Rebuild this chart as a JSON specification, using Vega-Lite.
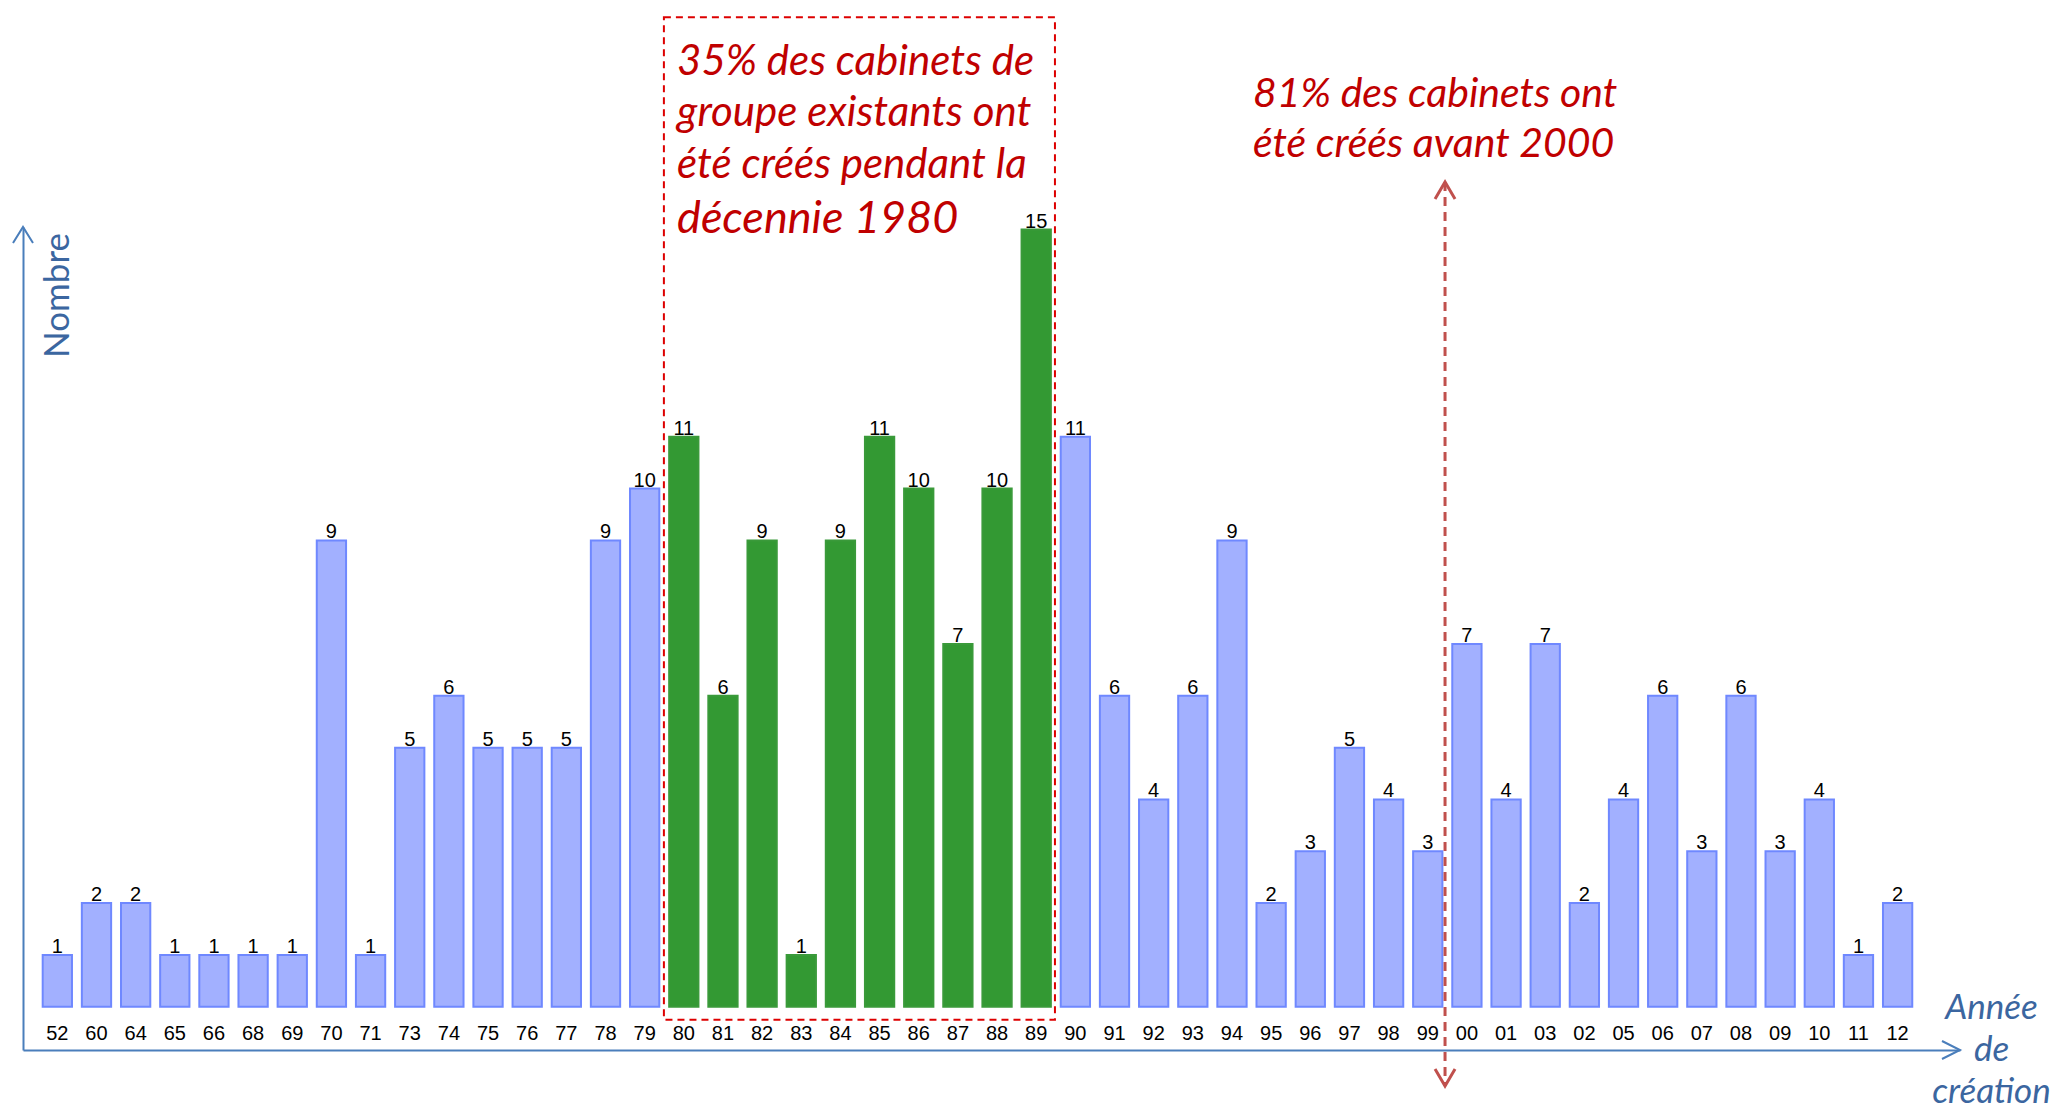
{
  "$schema": "https://vega.github.io/schema/vega-lite/v6.json",
  "width": 1937,
  "height": 823,
  "autosize": {"type": "none"},
  "padding": {"left": 23, "top": 227, "right": 98, "bottom": 59},
  "background": "white",
  "config": {"view": {"stroke": null}},
  "datasets": {
    "cabinets": [
      {"annee": "52", "n": 1, "groupe": "autre"},
      {"annee": "60", "n": 2, "groupe": "autre"},
      {"annee": "64", "n": 2, "groupe": "autre"},
      {"annee": "65", "n": 1, "groupe": "autre"},
      {"annee": "66", "n": 1, "groupe": "autre"},
      {"annee": "68", "n": 1, "groupe": "autre"},
      {"annee": "69", "n": 1, "groupe": "autre"},
      {"annee": "70", "n": 9, "groupe": "autre"},
      {"annee": "71", "n": 1, "groupe": "autre"},
      {"annee": "73", "n": 5, "groupe": "autre"},
      {"annee": "74", "n": 6, "groupe": "autre"},
      {"annee": "75", "n": 5, "groupe": "autre"},
      {"annee": "76", "n": 5, "groupe": "autre"},
      {"annee": "77", "n": 5, "groupe": "autre"},
      {"annee": "78", "n": 9, "groupe": "autre"},
      {"annee": "79", "n": 10, "groupe": "autre"},
      {"annee": "80", "n": 11, "groupe": "1980"},
      {"annee": "81", "n": 6, "groupe": "1980"},
      {"annee": "82", "n": 9, "groupe": "1980"},
      {"annee": "83", "n": 1, "groupe": "1980"},
      {"annee": "84", "n": 9, "groupe": "1980"},
      {"annee": "85", "n": 11, "groupe": "1980"},
      {"annee": "86", "n": 10, "groupe": "1980"},
      {"annee": "87", "n": 7, "groupe": "1980"},
      {"annee": "88", "n": 10, "groupe": "1980"},
      {"annee": "89", "n": 15, "groupe": "1980"},
      {"annee": "90", "n": 11, "groupe": "autre"},
      {"annee": "91", "n": 6, "groupe": "autre"},
      {"annee": "92", "n": 4, "groupe": "autre"},
      {"annee": "93", "n": 6, "groupe": "autre"},
      {"annee": "94", "n": 9, "groupe": "autre"},
      {"annee": "95", "n": 2, "groupe": "autre"},
      {"annee": "96", "n": 3, "groupe": "autre"},
      {"annee": "97", "n": 5, "groupe": "autre"},
      {"annee": "98", "n": 4, "groupe": "autre"},
      {"annee": "99", "n": 3, "groupe": "autre"},
      {"annee": "00", "n": 7, "groupe": "autre"},
      {"annee": "01", "n": 4, "groupe": "autre"},
      {"annee": "03", "n": 7, "groupe": "autre"},
      {"annee": "02", "n": 2, "groupe": "autre"},
      {"annee": "05", "n": 4, "groupe": "autre"},
      {"annee": "06", "n": 6, "groupe": "autre"},
      {"annee": "07", "n": 3, "groupe": "autre"},
      {"annee": "08", "n": 6, "groupe": "autre"},
      {"annee": "09", "n": 3, "groupe": "autre"},
      {"annee": "10", "n": 4, "groupe": "autre"},
      {"annee": "11", "n": 1, "groupe": "autre"},
      {"annee": "12", "n": 2, "groupe": "autre"}
    ]
  },
  "layer": [
    {
      "data": {"name": "cabinets"},
      "mark": {"type": "bar", "strokeWidth": 2},
      "encoding": {
        "x": {
          "field": "annee",
          "type": "nominal",
          "sort": null,
          "scale": {
            "domain": ["52","60","64","65","66","68","69","70","71","73","74","75","76","77","78","79","80","81","82","83","84","85","86","87","88","89","90","91","92","93","94","95","96","97","98","99","00","01","03","02","05","06","07","08","09","10","11","12"],
            "paddingInner": 0.252,
            "paddingOuter": 0.861,
            "align": 0.292
          },
          "axis": {
            "title": ["Année", "de", "création"],
            "titleFont": "Lato",
            "titleFontStyle": "italic",
            "titleFontWeight": "normal",
            "titleFontSize": 35,
            "titleColor": "#3b66a0",
            "titleLineHeight": 42,
            "titleX": 1968,
            "titleY": -43,
            "titleAlign": "center",
            "titleBaseline": "middle",
            "titleAngle": 0,
            "labelAngle": 0,
            "labelFont": "Liberation Sans",
            "labelFontSize": 20,
            "labelColor": "#000000",
            "labelPadding": -17,
            "labelBaseline": "middle",
            "ticks": false,
            "tickSize": 0,
            "grid": false,
            "domainColor": "#4a7ebb",
            "domainWidth": 2
          }
        },
        "y": {
          "field": "n",
          "type": "quantitative",
          "scale": {"domain": [-0.836, 15.05], "nice": false, "zero": false},
          "axis": {
            "title": "Nombre",
            "titleFont": "Lato",
            "titleFontSize": 35,
            "titleFontWeight": "normal",
            "titleColor": "#3b66a0",
            "titleX": 34,
            "titleY": 68,
            "titleAngle": 270,
            "titleAlign": "center",
            "titleBaseline": "middle",
            "labels": false,
            "ticks": false,
            "grid": false,
            "domainColor": "#4a7ebb",
            "domainWidth": 2
          }
        },
        "y2": {"datum": 0},
        "fill": {
          "field": "groupe",
          "type": "nominal",
          "scale": {"domain": ["autre", "1980"], "range": ["#a2b0ff", "#339933"]},
          "legend": null
        },
        "stroke": {
          "field": "groupe",
          "type": "nominal",
          "scale": {"domain": ["autre", "1980"], "range": ["#6f88ff", "#3a9a3a"]},
          "legend": null
        }
      }
    },
    {
      "data": {"name": "cabinets"},
      "mark": {"type": "text", "font": "Liberation Sans", "fontSize": 20, "color": "#000000", "baseline": "alphabetic", "dy": -2},
      "encoding": {
        "x": {"field": "annee", "type": "nominal", "sort": null},
        "y": {"field": "n", "type": "quantitative"},
        "text": {"field": "n", "type": "quantitative"}
      }
    },
    {
      "data": {"values": [{"y1": -0.25, "y2": 19.1}]},
      "mark": {"type": "rect", "fill": null, "stroke": "#dd0000", "strokeWidth": 2, "strokeDash": [7, 5], "clip": false},
      "encoding": {
        "x": {"datum": "80", "bandPosition": -0.18},
        "x2": {"datum": "89", "bandPosition": 1.14},
        "y": {"field": "y1", "type": "quantitative"},
        "y2": {"field": "y2"}
      }
    },
    {
      "data": {"values": [{"t": ["35% des cabinets de", "groupe existants ont", "été créés pendant la"], "y": 17.99}]},
      "mark": {"type": "text", "font": "Lato", "fontStyle": "italic", "fontSize": 42, "color": "#c00000", "align": "left", "baseline": "alphabetic", "lineHeight": 51.5},
      "encoding": {
        "x": {"datum": "80", "bandPosition": 0.27},
        "y": {"field": "y", "type": "quantitative"},
        "text": {"field": "t"}
      }
    },
    {
      "data": {"values": [{"t": "décennie 1980", "y": 14.93}]},
      "mark": {"type": "text", "font": "Lato", "fontStyle": "italic", "fontSize": 45, "color": "#c00000", "align": "left", "baseline": "alphabetic"},
      "encoding": {
        "x": {"datum": "80", "bandPosition": 0.27},
        "y": {"field": "y", "type": "quantitative"},
        "text": {"field": "t"}
      }
    },
    {
      "data": {"values": [{"t": ["81% des cabinets ont", "été créés avant 2000"], "y": 17.37}]},
      "mark": {"type": "text", "font": "Lato", "fontStyle": "italic", "fontSize": 41, "color": "#c00000", "align": "left", "baseline": "alphabetic", "lineHeight": 50},
      "encoding": {
        "x": {"datum": "95", "bandPosition": -0.12},
        "y": {"field": "y", "type": "quantitative"},
        "text": {"field": "t"}
      }
    },
    {
      "data": {"values": [{"haut": 15.92, "bas": -1.53}]},
      "mark": {"type": "rule", "stroke": "#c0504d", "strokeWidth": 3, "strokeDash": [9, 6], "clip": false},
      "encoding": {
        "x": {"datum": "99", "bandPosition": 1.09},
        "y": {"field": "haut", "type": "quantitative"},
        "y2": {"field": "bas"}
      }
    },
    {
      "data": {"values": [{"haut": 15.92}]},
      "mark": {"type": "point", "shape": "M-1,1.7L0,0L1,1.7", "size": 400, "filled": false, "stroke": "#c0504d", "strokeWidth": 3, "opacity": 1, "clip": false},
      "encoding": {
        "x": {"datum": "99", "bandPosition": 1.09},
        "y": {"field": "haut", "type": "quantitative"}
      }
    },
    {
      "data": {"values": [{"bas": -1.53}]},
      "mark": {"type": "point", "shape": "M-1,-1.7L0,0L1,-1.7", "size": 400, "filled": false, "stroke": "#c0504d", "strokeWidth": 3, "opacity": 1, "clip": false},
      "encoding": {
        "x": {"datum": "99", "bandPosition": 1.09},
        "y": {"field": "bas", "type": "quantitative"}
      }
    },
    {
      "data": {"values": [{"sommet": 15.05}]},
      "mark": {"type": "point", "shape": "M-1,1.6L0,0L1,1.6", "size": 400, "filled": false, "stroke": "#4a7ebb", "strokeWidth": 2, "opacity": 1, "clip": false},
      "encoding": {
        "x": {"value": 0},
        "y": {"field": "sommet", "type": "quantitative"}
      }
    },
    {
      "data": {"values": [{"base": -0.836}]},
      "mark": {"type": "point", "shape": "M-1.8,-0.9L0,0L-1.8,0.9", "size": 400, "filled": false, "stroke": "#4a7ebb", "strokeWidth": 2, "opacity": 1, "clip": false},
      "encoding": {
        "x": {"value": "width"},
        "y": {"field": "base", "type": "quantitative"}
      }
    }
  ]
}
